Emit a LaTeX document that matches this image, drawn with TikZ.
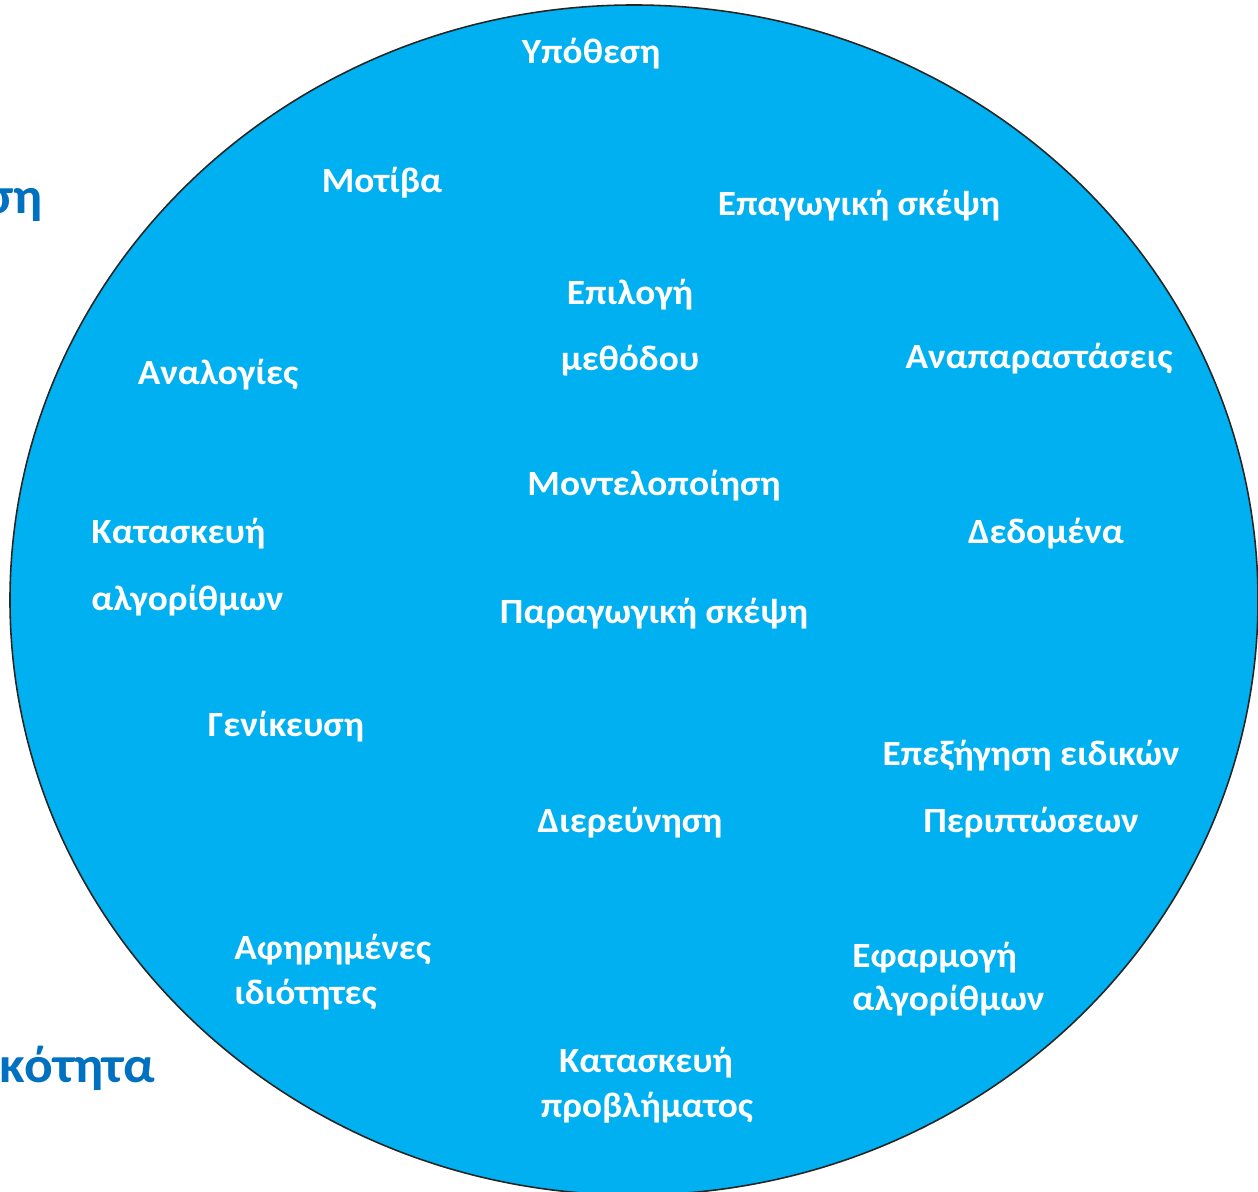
\documentclass[tikz,border=0pt]{standalone}
\usepackage{fontspec}
\setmainfont{Carlito}
\definecolor{fillblue}{HTML}{00B0F0}
\definecolor{darkblue}{HTML}{0070C0}
\tikzset{
  lbl/.style={text=white, font=\bfseries\fontsize{20.2}{24}\selectfont, xscale=1.05, inner sep=0pt, anchor=base},
  lblw/.style={lbl, anchor=base west},
  side/.style={text=darkblue, font=\bfseries\fontsize{29}{34}\selectfont, xscale=1.05, inner sep=0pt, anchor=base east}
}
\begin{document}
\begin{tikzpicture}[x=0.2mm, y=-0.2mm]
  \useasboundingbox (0,0) rectangle (1258,1192);
  \fill[white] (0,0) rectangle (1258,1192);
  % the big disc
  \draw[fill=fillblue, draw=black!85, line width=0.9pt]
    (634,600) ellipse [x radius=124.8mm, y radius=119mm];
  % words running off the left edge
  \draw
    (43,213) node[side] (s1){ση}
    (155,1082) node[side] (s2){ικότητα};
  \path
    (591,63) node[lbl] (ypo){Υπόθεση}
    (382,192) node[lbl] (mot){Μοτίβα}
    (859,215) node[lbl] (epag){Επαγωγική σκέψη}
    (630,304) node[lbl] (epil1){Επιλογή}
    (630,370) node[lbl] (epil2){μεθόδου}
    (218,384) node[lbl] (anal){Αναλογίες}
    (1039,368) node[lbl] (anap){Αναπαραστάσεις}
    (654,495) node[lbl] (mont){Μοντελοποίηση}
    (91,543) node[lblw] (kat1){Κατασκευή}
    (91,610) node[lblw] (kat2){αλγορίθμων}
    (1046,543) node[lbl] (dedo){Δεδομένα}
    (654,623) node[lbl] (parag){Παραγωγική σκέψη}
    (286,736) node[lbl] (gen){Γενίκευση}
    (1031,765) node[lbl] (epex1){Επεξήγηση ειδικών}
    (1031,832) node[lbl] (epex2){Περιπτώσεων}
    (630,832) node[lbl] (dier){Διερεύνηση}
    (234,959) node[lblw] (afi1){Αφηρημένες}
    (234,1004) node[lblw] (afi2){ιδιότητες}
    (852,967) node[lblw] (efar1){Εφαρμογή}
    (852,1010) node[lblw] (efar2){αλγορίθμων}
    (646,1072) node[lbl] (prob1){Κατασκευή}
    (647,1117) node[lbl] (prob2){προβλήματος};
\end{tikzpicture}
\end{document}
